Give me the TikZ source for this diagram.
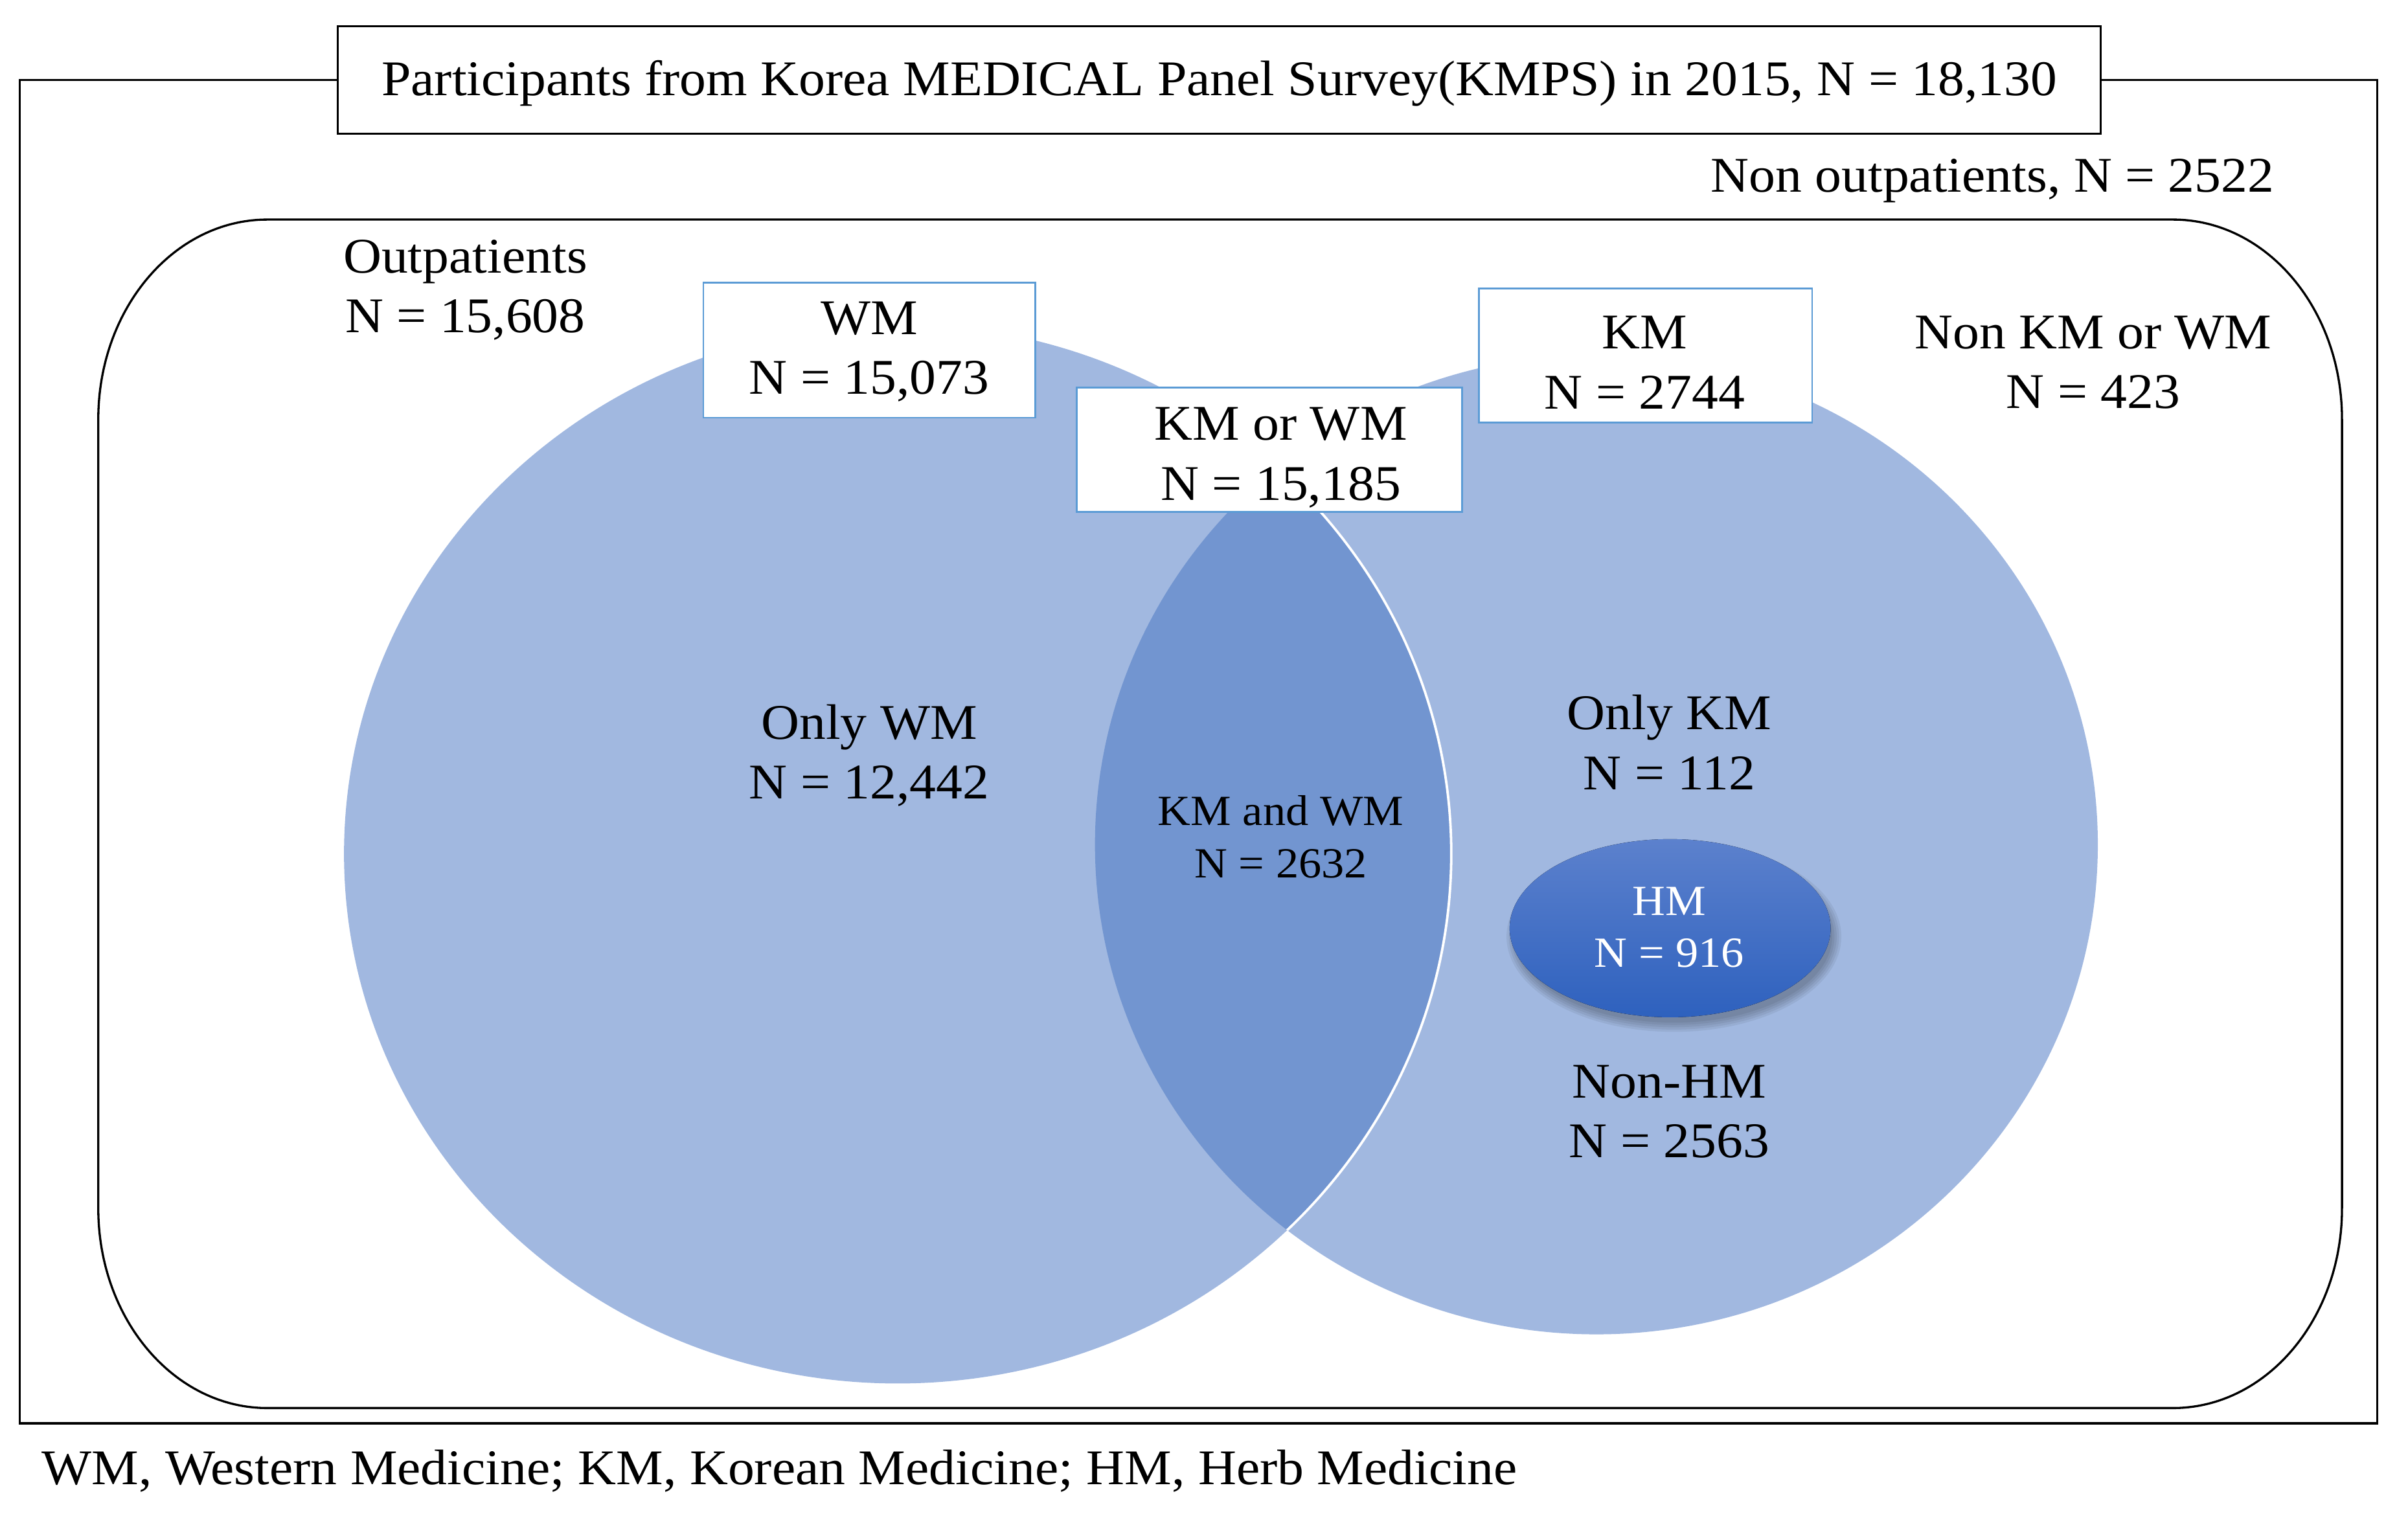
\documentclass[tikz,border=0pt]{standalone}
\usepackage{fontspec}
\setmainfont[FakeStretch=1.06]{Liberation Serif}
\usetikzlibrary{shadows}
\definecolor{circ}{HTML}{A1B8E0}
\definecolor{lensc}{HTML}{7295D0}
\definecolor{boxblue}{HTML}{5B9BD5}
\definecolor{hmtop}{HTML}{5C81CD}
\definecolor{hmbot}{HTML}{2E61BE}
\begin{document}
\begin{tikzpicture}[x=1pt,y=-1pt,
  bigtxt/.style={font=\fontsize{32.5}{39}\selectfont, align=center, inner sep=0pt},
  smalltxt/.style={font=\fontsize{28}{34}\selectfont, align=center, inner sep=0pt},
  bluebox/.style={draw=boxblue, line width=1.2pt, fill=white, inner sep=0pt},
  blackline/.style={draw=black, line width=1.4pt},
  hmshade/.style={fill=black, opacity=0.06}]
\useasboundingbox (0,0) rectangle (1568,993);
% outer frame
\draw[blackline] (13,52) rectangle (1548,927);
\node[blackline, fill=white, minimum width=1148pt, minimum height=70pt, inner sep=0pt] (titlebox) at (794,52) {};
\node[bigtxt, anchor=base] (title) at (794,62) {Participants from Korea MEDICAL Panel Survey(KMPS) in 2015, N = 18,130};
\node[bigtxt, anchor=base east] (nonout) at (1481,125) {Non outpatients, N = 2522};
% outpatient rounded frame (elliptical corners)
\draw[blackline]
  (174,143) -- (1415,143)
  .. controls (1475.8,143) and (1525,201.2) .. (1525,273)
  -- (1525,787)
  .. controls (1525,858.8) and (1475.8,917) .. (1415,917)
  -- (174,917)
  .. controls (113.2,917) and (64,858.8) .. (64,787)
  -- (64,273)
  .. controls (64,201.2) and (113.2,143) .. (174,143) -- cycle;
% Venn circles
\fill[circ] (1039.5,550) ellipse [x radius=326.5pt, y radius=319pt];
\fill[circ] (584.5,556) ellipse [x radius=360.5pt, y radius=345pt];
\begin{scope}
  \clip (1039.5,550) ellipse [x radius=326.5pt, y radius=319pt];
  \fill[lensc] (584.5,556) ellipse [x radius=360.5pt, y radius=345pt];
  \draw[white, line width=1.6pt] (584.5,556) ellipse [x radius=360.5pt, y radius=345pt];
\end{scope}
% boxes
\node[bluebox, minimum width=216pt, minimum height=88pt] (wmbox) at (566,228) {};
\node[bluebox, minimum width=251pt, minimum height=81pt] (kmwmbox) at (826.5,293) {};
\node[bluebox, minimum width=217pt, minimum height=87pt] (kmbox) at (1071.5,231.5) {};
% texts
\node[bigtxt] (outp) at (303,189) {Outpatients\\N = 15,608};
\node[bigtxt] (wmtxt) at (566,229) {WM\\N = 15,073};
\node[bigtxt] (kmwmtxt) at (834,298) {KM or WM\\N = 15,185};
\node[bigtxt] (kmtxt) at (1071,236) {KM\\N = 2744};
\node[bigtxt] (nonkmwm) at (1363,236) {Non KM or WM\\N = 423};
\node[bigtxt] (onlywm) at (566,492) {Only WM\\N = 12,442};
\node[bigtxt] (onlykm) at (1087,483.5) {Only KM\\N = 112};
\node[smalltxt] (kmandwm) at (834,545) {KM and WM\\N = 2632};
% HM ellipse with soft shadow
\foreach \r in {0,1.5,3,4.5,6}{
  \fill[hmshade] (1090,610) ellipse [x radius={103pt+\r pt}, y radius={56pt+\r pt}];
}
\fill[top color=hmtop, bottom color=hmbot]
  (1087.5,604.5) ellipse [x radius=104.5pt, y radius=58pt];
\node[smalltxt, text=white] (hmtxt) at (1087,604) {HM\\N = 916};
\node[bigtxt] (nonhm) at (1087,724) {Non-HM\\N = 2563};
% footnote
\node[bigtxt, anchor=base west] (foot) at (27,967) {WM, Western Medicine; KM, Korean Medicine; HM, Herb Medicine};
\end{tikzpicture}
\end{document}
